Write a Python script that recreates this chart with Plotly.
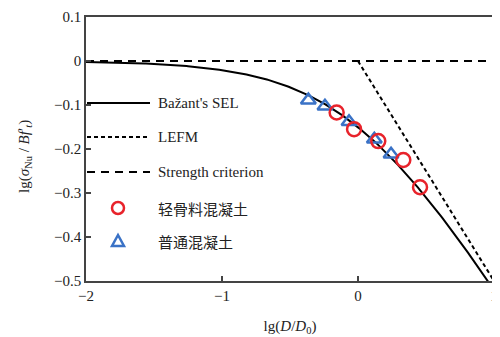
import numpy as np
import plotly.graph_objects as go

# ---- data ----
lwa_x = [-0.157, -0.029, 0.149, 0.333, 0.456]      # 轻骨料混凝土
lwa_y = [-0.117, -0.155, -0.182, -0.225, -0.287]
nc_x = [-0.365, -0.243, -0.066, 0.120, 0.243]       # 普通混凝土
nc_y = [-0.089, -0.103, -0.138, -0.178, -0.212]

strength_x = [-2, 1]
strength_y = [0, 0]
lefm_x = [0, 1]
lefm_y = [0, -0.5]

# Bazant size effect law: sigma = B f't / sqrt(1 + D/D0)
sel_x = np.linspace(-2, 1, 301)
sel_y = -0.5 * np.log10(1 + 10 ** sel_x)

x_ticks = [-2, -1, 0, 1]
y_ticks = [0.1, 0, -0.1, -0.2, -0.3, -0.4, -0.5]
y_tick_text = ["0.1", "0", "\u22120.1", "\u22120.2", "\u22120.3", "\u22120.4", "\u22120.5"]
x_tick_text = ["\u22122", "\u22121", "0", "1"]

legend_labels = ["Bažant's SEL", "LEFM", "Strength criterion", "轻骨料混凝土", "普通混凝土"]
y_title = "lg(<i>σ</i><sub>Nu</sub> / <i>Bf</i>′<sub><i>t</i></sub>)"
x_title = "lg(<i>D</i>/<i>D</i><sub>0</sub>)"

RED = "#e8232b"
BLUE = "#3a72c6"
SERIF = "Liberation Serif, Times New Roman, serif"
CJK = "Noto Sans CJK SC"

fig = go.Figure()
fig.add_trace(go.Scatter(x=strength_x, y=strength_y, mode="lines",
                         line=dict(color="black", width=2, dash="8px,6px"), showlegend=False))
fig.add_trace(go.Scatter(x=lefm_x, y=lefm_y, mode="lines",
                         line=dict(color="black", width=2, dash="4px,3px"), showlegend=False))
fig.add_trace(go.Scatter(x=sel_x, y=sel_y, mode="lines",
                         line=dict(color="black", width=2), showlegend=False))
fig.add_trace(go.Scatter(x=nc_x, y=nc_y, mode="markers",
                         marker=dict(symbol="triangle-up-open", size=13, color=BLUE,
                                     line=dict(width=2.5, color=BLUE)), showlegend=False))
fig.add_trace(go.Scatter(x=lwa_x, y=lwa_y, mode="markers",
                         marker=dict(symbol="circle-open", size=14, color=RED,
                                     line=dict(width=2.5, color=RED)), showlegend=False))

# ---- layout (page body adds an 8px offset) ----
OFF = 8
L, T, W, H = 86 - OFF, 17 - OFF, 408, 264
FW, FH = 500, 337

def fx(px):   # window pixel -> x domain fraction
    return (px - OFF - L) / W
def fy(py):   # window pixel -> y domain fraction
    return (T + H - (py - OFF)) / H

shapes = []
rows = [103, 137, 172, 208, 241]
styles = [dict(color="black", width=2), dict(color="black", width=2, dash="4px,3px"),
          dict(color="black", width=2, dash="8px,6px")]
for r, st in zip(rows[:3], styles):
    shapes.append(dict(type="line", xref="x domain", yref="y domain",
                       x0=fx(87), x1=fx(150), y0=fy(r), y1=fy(r), line=st))
shapes.append(dict(type="circle", xref="x domain", yref="y domain",
                   xsizemode="pixel", ysizemode="pixel", xanchor=fx(118), yanchor=fy(rows[3]),
                   x0=-6, x1=6, y0=-6, y1=6, line=dict(color=RED, width=2.5)))
shapes.append(dict(type="path", xref="x domain", yref="y domain",
                   xsizemode="pixel", ysizemode="pixel", xanchor=fx(118), yanchor=fy(rows[4]),
                   path="M-6,-5 L6,-5 L0,6 Z", line=dict(color=BLUE, width=2.5)))

annotations = []
for i, (r, lab) in enumerate(zip(rows, legend_labels)):
    annotations.append(dict(xref="x domain", yref="y domain", x=fx(156), y=fy(r),
                            text=lab, showarrow=False, xanchor="left", yanchor="middle",
                            font=dict(family=SERIF if i < 3 else CJK, size=15, color="#222")))
# y-axis title placed as rotated text
annotations.append(dict(xref="x domain", yref="y domain", x=fx(25), y=fy(157),
                        text=y_title, showarrow=False, textangle=-90,
                        xanchor="center", yanchor="middle",
                        font=dict(family=SERIF, size=15, color="#222")))

fig.update_layout(
    width=FW, height=FH,
    margin=dict(l=L, r=FW - L - W, t=T, b=FH - T - H, autoexpand=False),
    paper_bgcolor="white", plot_bgcolor="white",
    shapes=shapes, annotations=annotations,
    font=dict(family=SERIF, size=15, color="#222"),
    xaxis=dict(range=[-2, 1], tickvals=x_ticks, ticktext=x_tick_text, automargin=False,
               ticklabeloverflow="allow",
               showgrid=False, zeroline=False, showline=True, mirror=True,
               linecolor="#444", linewidth=1.5, ticks="inside", ticklen=5,
               tickcolor="#444", tickwidth=1.5,
               title=dict(text=x_title, standoff=18, font=dict(size=15))),
    yaxis=dict(range=[-0.5, 0.1], tickvals=y_ticks, ticktext=y_tick_text, automargin=False,
               ticklabeloverflow="allow",
               showgrid=False, zeroline=False, showline=True, mirror=True,
               linecolor="#444", linewidth=1.5, ticks="inside", ticklen=5,
               tickcolor="#444", tickwidth=1.5),
)

fig.write_html("out.html")
